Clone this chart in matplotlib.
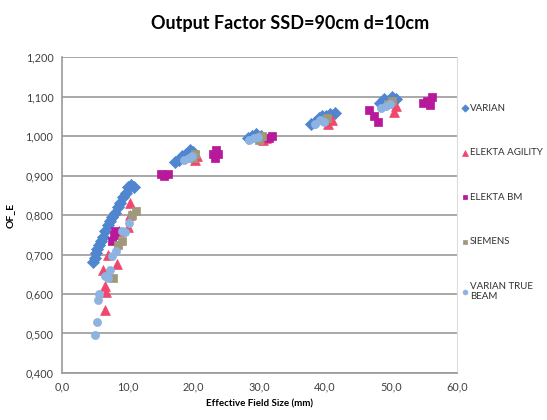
import matplotlib
matplotlib.use('Agg')
import matplotlib.pyplot as plt
from matplotlib.ticker import FuncFormatter, MultipleLocator

plt.rcParams['font.family'] = ['Lato', 'DejaVu Sans']

# field size (mm) / output factor per machine
varian_x = [4.8, 5.0, 5.2, 5.4, 5.6, 5.9, 6.2, 6.6, 7.0, 7.3, 7.7, 8.1, 8.5, 8.9, 9.3, 9.7,
            10.1, 10.5, 11.0, 17.2, 17.8, 18.3, 18.9, 19.5, 20.0, 28.3, 28.9, 29.5, 30.2,
            37.8, 38.4, 39.0, 39.6, 40.2, 40.8, 41.5, 48.4, 48.9, 49.5, 50.1, 50.7]
varian_y = [0.680, 0.690, 0.705, 0.715, 0.725, 0.735, 0.745, 0.760, 0.775, 0.785, 0.795,
            0.805, 0.820, 0.830, 0.845, 0.855, 0.870, 0.875, 0.870, 0.935, 0.940, 0.950,
            0.955, 0.965, 0.960, 0.995, 1.000, 1.005, 1.000, 1.030, 1.035, 1.045, 1.050,
            1.050, 1.055, 1.058, 1.085, 1.095, 1.090, 1.098, 1.095]

agility_x = [6.6, 6.7, 6.5, 6.3, 7.0, 8.4, 7.8, 8.7, 10.1, 10.3, 10.4, 20.3, 20.6, 30.5,
             31.0, 40.5, 41.0, 50.5, 50.8]
agility_y = [0.560, 0.605, 0.620, 0.660, 0.700, 0.675, 0.740, 0.760, 0.770, 0.800, 0.830,
             0.940, 0.950, 0.990, 0.995, 1.030, 1.040, 1.060, 1.075]

bm_x = [7.6, 8.0, 8.1, 15.0, 15.6, 16.2, 23.0, 23.4, 23.8, 23.3, 31.5, 32.0, 46.6, 47.5,
        48.0, 54.8, 55.5, 56.0, 56.3]
bm_y = [0.735, 0.750, 0.760, 0.905, 0.900, 0.905, 0.955, 0.965, 0.955, 0.945, 0.995, 1.000,
        1.065, 1.050, 1.035, 1.085, 1.090, 1.078, 1.100]

siemens_x = [7.8, 8.5, 9.2, 10.6, 11.3, 20.0, 20.3, 30.0, 30.4, 39.8, 40.3, 49.6, 50.2]
siemens_y = [0.640, 0.725, 0.735, 0.800, 0.810, 0.945, 0.955, 0.990, 1.000, 1.040, 1.045,
             1.080, 1.090]

truebeam_x = [5.0, 5.3, 5.5, 5.6, 6.5, 7.0, 7.3, 7.6, 8.3, 9.1, 9.6, 10.2, 18.5, 19.3, 19.8,
              28.5, 29.2, 29.8, 38.5, 39.2, 39.8, 48.5, 49.2, 49.8]
truebeam_y = [0.495, 0.530, 0.585, 0.600, 0.645, 0.640, 0.660, 0.695, 0.710, 0.760, 0.757,
              0.780, 0.940, 0.945, 0.950, 0.990, 0.995, 0.998, 1.030, 1.040, 1.035, 1.070,
              1.075, 1.080]

series = [
    ('VARIAN', varian_x, varian_y, 'D', '#4F86CF', 38),
    ('ELEKTA AGILITY', agility_x, agility_y, '^', '#F0476F', 50),
    ('ELEKTA BM', bm_x, bm_y, 's', '#B8189A', 34),
    ('SIEMENS', siemens_x, siemens_y, 's', '#A0987A', 34),
    ('VARIAN TRUE\nBEAM', truebeam_x, truebeam_y, 'o', '#8DB3E2', 34),
]

fig = plt.figure(figsize=(5.47, 4.2), dpi=100)
ax = fig.add_axes([0.113, 0.112, 0.722, 0.752])

for label, xs, ys, marker, color, size in series:
    ax.scatter(xs, ys, marker=marker, s=size, color=color, edgecolors=color,
               linewidths=0.5, label=label, zorder=3)

ax.set_xlim(0, 60)
ax.set_ylim(0.4, 1.2)
ax.xaxis.set_major_locator(MultipleLocator(10))
ax.yaxis.set_major_locator(MultipleLocator(0.1))
ax.xaxis.set_major_formatter(FuncFormatter(lambda v, p: f'{v:.1f}'.replace('.', ',')))
ax.yaxis.set_major_formatter(FuncFormatter(lambda v, p: f'{v:.3f}'.replace('.', ',')))
ax.grid(axis='y', color='#9a9a9a', linewidth=1.2, zorder=0)
ax.tick_params(length=0, labelsize=7.8, colors='#404040', pad=6)
for side in ['left', 'bottom']:
    ax.spines[side].set_color('#9a9a9a')
    ax.spines[side].set_linewidth(1.2)
ax.spines['top'].set_visible(False)
ax.spines['right'].set_color('#dddddd')

ax.set_xlabel('Effective Field Size (mm)', fontsize=7, fontweight='bold', labelpad=5)
ax.set_ylabel('OF_E', fontsize=7.5, fontweight='bold', labelpad=8)
fig.suptitle('Output Factor SSD=90cm d=10cm', x=0.53, y=0.965, fontsize=13, fontweight='bold')

ax.legend(loc='upper left', bbox_to_anchor=(1.005, 0.865), frameon=False, fontsize=7.0,
          handlelength=0.5, handletextpad=0.25, labelspacing=3.65, borderaxespad=0,
          markerscale=0.6, labelcolor='#303030')

fig.savefig('out.png', dpi=100)
